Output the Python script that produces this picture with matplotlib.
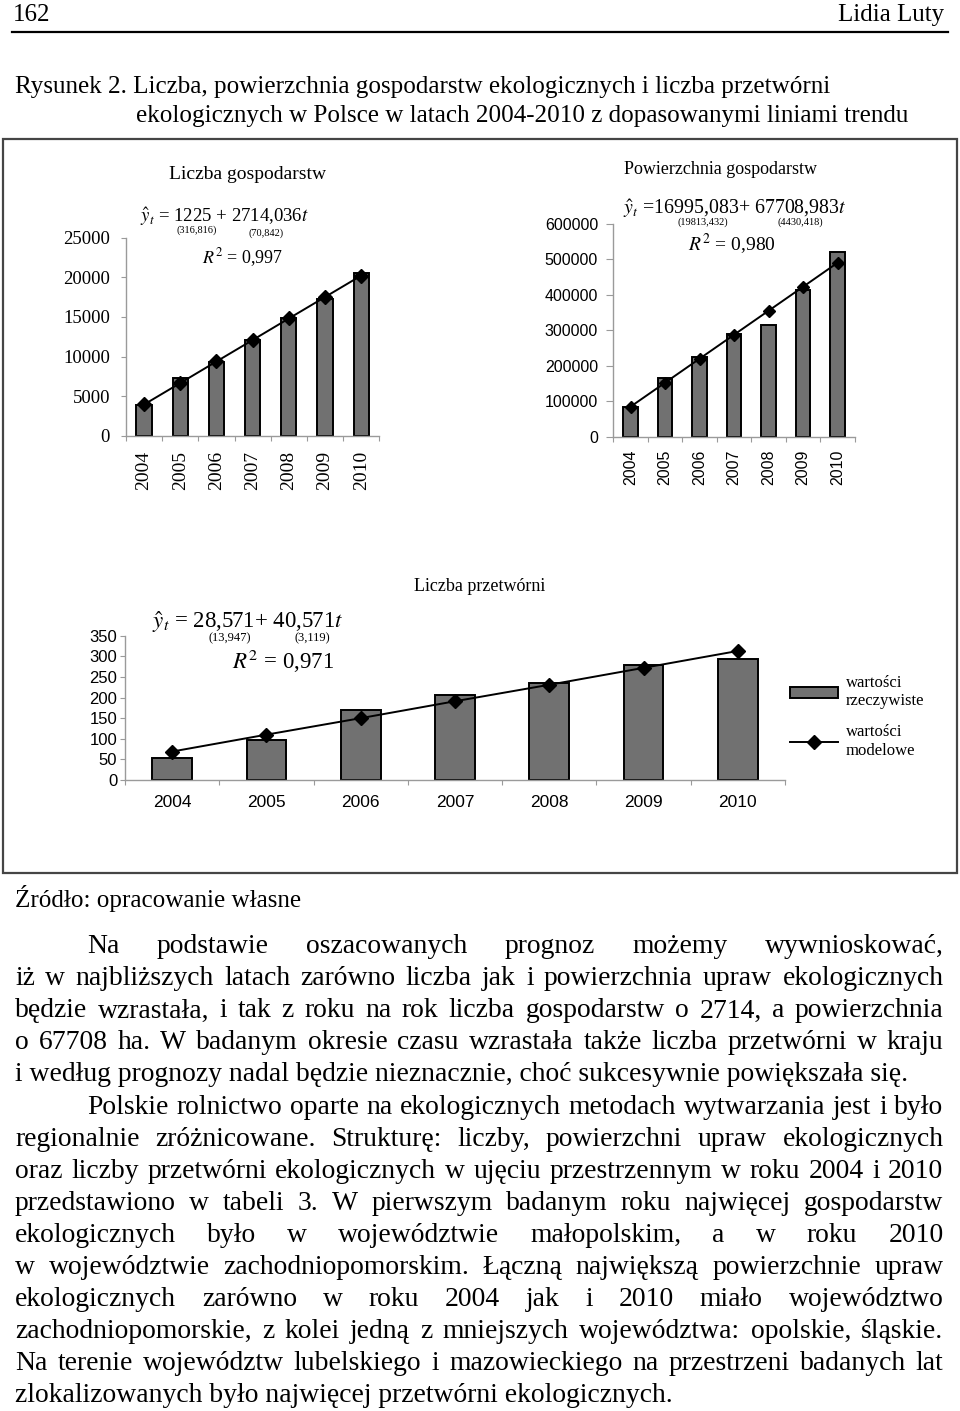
import matplotlib
matplotlib.use('Agg')
import matplotlib.pyplot as plt
from matplotlib.patches import Rectangle
from matplotlib.lines import Line2D

plt.rcParams['font.family'] = ['Liberation Serif', 'DejaVu Serif']
plt.rcParams['mathtext.fontset'] = 'stix'

W, H = 960, 1411

years = ['2004', '2005', '2006', '2007', '2008', '2009', '2010']

# liczba gospodarstw
farms = [3850, 7250, 9350, 12050, 14900, 17200, 20500]
farms_fit = [3940, 6650, 9370, 12080, 14800, 17510, 20220]

# powierzchnia gospodarstw
area = [84000, 166500, 226000, 290000, 314000, 415000, 520000]
area_fit = [84700, 152400, 220100, 287800, 355500, 423200, 491000]

# liczba przetworni
plants = [54, 97, 170, 207, 236, 279, 293]
plants_fit = [69, 110, 150, 191, 231, 272, 313]

legend_labels = ['wartości\nrzeczywiste', 'wartości\nmodelowe']

caption = ['Rysunek 2. Liczba, powierzchnia gospodarstw ekologicznych i liczba przetwórni',
           'ekologicznych w Polsce w latach 2004-2010 z dopasowanymi liniami trendu']
source = 'Źródło: opracowanie własne'

body = [
    'Na podstawie oszacowanych prognoz możemy wywnioskować,',
    'iż w najbliższych latach zarówno liczba jak i powierzchnia upraw ekologicznych',
    'będzie wzrastała, i tak z roku na rok liczba gospodarstw o 2714, a powierzchnia',
    'o 67708 ha. W badanym okresie czasu wzrastała także liczba przetwórni w kraju',
    'i według prognozy nadal będzie nieznacznie, choć sukcesywnie powiększała się.',
    'Polskie rolnictwo oparte na ekologicznych metodach wytwarzania jest i było',
    'regionalnie zróżnicowane. Strukturę: liczby, powierzchni upraw ekologicznych',
    'oraz liczby przetwórni ekologicznych w ujęciu przestrzennym w roku 2004 i 2010',
    'przedstawiono w tabeli 3. W pierwszym badanym roku najwięcej gospodarstw',
    'ekologicznych było w województwie małopolskim, a w roku 2010',
    'w województwie zachodniopomorskim. Łączną największą powierzchnie upraw',
    'ekologicznych zarówno w roku 2004 jak i 2010 miało województwo',
    'zachodniopomorskie, z kolei jedną z mniejszych województwa: opolskie, śląskie.',
    'Na terenie województw lubelskiego i mazowieckiego na przestrzeni badanych lat',
    'zlokalizowanych było najwięcej przetwórni ekologicznych.',
]
indented = [0, 5]
last_lines = [4, 14]

fig = plt.figure(figsize=(W / 100, H / 100), dpi=100)
renderer = fig.canvas.get_renderer()


def ptext(x, y, s, size, ha='left', va='baseline', **kw):
    return fig.text(x / W, 1 - y / H, s, fontsize=size, ha=ha, va=va, **kw)


def axes_px(x0, ytop, x1, ybot):
    return fig.add_axes([x0 / W, 1 - ybot / H, (x1 - x0) / W, (ybot - ytop) / H])


def justify(line, x0, x1, yb, size):
    words = line.split()
    texts = [ptext(0, yb, w, size) for w in words]
    widths = [t.get_window_extent(renderer).width for t in texts]
    gap = (x1 - x0 - sum(widths)) / (len(words) - 1)
    x = x0
    for t, w in zip(texts, widths):
        t.set_x(x / W)
        x += w + gap


def trend_chart(ax, vals, fit, ymax, step, family, ysize, xsize, rot, xpad, ypad, ylen, ms):
    x = list(range(len(years)))
    bars = ax.bar(x, vals, width=0.42, color='#717171', edgecolor='black', linewidth=1.4, zorder=2)
    line, = ax.plot(x, fit, color='black', lw=1.4, marker='D', ms=ms, zorder=3)
    ax.set_xlim(-0.5, 6.5)
    ax.set_ylim(0, ymax)
    ax.patch.set_alpha(0)
    for s in ['top', 'right']:
        ax.spines[s].set_visible(False)
    for s in ['left', 'bottom']:
        ax.spines[s].set_color('#9a9a9a')
        ax.spines[s].set_linewidth(1.0)
    ax.set_yticks(range(0, ymax + 1, step))
    ax.set_yticklabels([str(v) for v in range(0, ymax + 1, step)], family=family, fontsize=ysize)
    ax.set_xticks([i - 0.5 for i in range(len(years) + 1)])
    ax.set_xticklabels([])
    ax.set_xticks(x, minor=True)
    ax.set_xticklabels(years, minor=True, rotation=rot, family=family, fontsize=xsize)
    ax.tick_params(axis='x', which='minor', length=0, pad=xpad)
    ax.tick_params(axis='x', which='major', length=3.5, color='#9a9a9a', direction='out')
    ax.tick_params(axis='y', length=ylen, color='#9a9a9a', direction='out', pad=ypad)
    return bars, line


# header
ptext(13, 21, '162', 18)
ptext(944, 21, 'Lidia Luty', 18, ha='right')
fig.add_artist(Line2D([12 / W, 948 / W], [1 - 31.7 / H] * 2, transform=fig.transFigure,
                      color='black', lw=1.6))

# caption
ptext(15, 93.3, caption[0], 18.1)
ptext(136.5, 121.7, caption[1], 18.1)

# frame around the figure
fig.add_artist(Rectangle((3 / W, 1 - 873 / H), 954 / W, 734 / H, transform=fig.transFigure,
                         fill=False, ec='#454545', lw=1.6))

# chart 1
ax1 = axes_px(126, 237.7, 379.3, 435.7)
trend_chart(ax1, farms, farms_fit, 25000, 5000, 'Liberation Serif', 13.5, 14, 90, 11, 8, 3.6, 7.5)
ptext(248, 179, 'Liczba gospodarstw', 14, ha='center')
ptext(140, 221.7, r'$\hat{y}_t$ = 1225 + 2714,036$t$', 13.5)
ptext(197, 232.7, '(316,816)', 7.5, ha='center')
ptext(266, 235.5, '(70,842)', 7.5, ha='center')
ptext(243, 263, r'$R^2$ = 0,997', 13, ha='center')

# chart 2
ax2 = axes_px(613.3, 224, 855, 436.7)
trend_chart(ax2, area, area_fit, 600000, 100000, 'Liberation Sans', 11.5, 11.5, 90, 9, 6, 5, 6.5)
ptext(720, 174, 'Powierzchnia gospodarstw', 13, ha='center')
ptext(623, 214, r'$\hat{y}_t$ =16995,083+ 67708,983$t$', 14.3)
ptext(703, 225, '(19813,432)', 7.5, ha='center')
ptext(800, 225, '(4430,418)', 7.5, ha='center')
ptext(732, 250, r'$R^2$ = 0,980', 14, ha='center')

# chart 3
ax3 = axes_px(125, 635.7, 785, 780)
bars, line = trend_chart(ax3, plants, plants_fit, 350, 50, 'Liberation Sans', 12, 12.5, 0, 11, 2, 3.6, 7)
ptext(480, 590.7, 'Liczba przetwórni', 13, ha='center')
ptext(152, 628, r'$\hat{y}_t$ = 28,571+ 40,571$t$', 16.5)
ptext(230, 641.7, '(13,947)', 9, ha='center')
ptext(312, 641.7, '(3,119)', 9, ha='center')
ptext(283, 669, r'$R^2$ = 0,971', 16.5, ha='center')
ax3.legend([bars, line], legend_labels, loc='center left',
           bbox_to_anchor=(790 / W, 1 - 717 / H), bbox_transform=fig.transFigure,
           frameon=False, fontsize=12, handlelength=2.9, handleheight=0.6,
           handletextpad=0.45, labelspacing=0.9, borderpad=0, borderaxespad=0)

# source and body text
ptext(15, 906.7, source, 18.1)
for i, line_txt in enumerate(body):
    yb = 953.4 + 32.02 * i
    x0 = 87.5 if i in indented else 15
    if i in last_lines:
        ptext(x0, yb, line_txt, 19.9)
    else:
        justify(line_txt, x0, 943.5, yb, 19.9)

fig.savefig('out.png', dpi=100)
